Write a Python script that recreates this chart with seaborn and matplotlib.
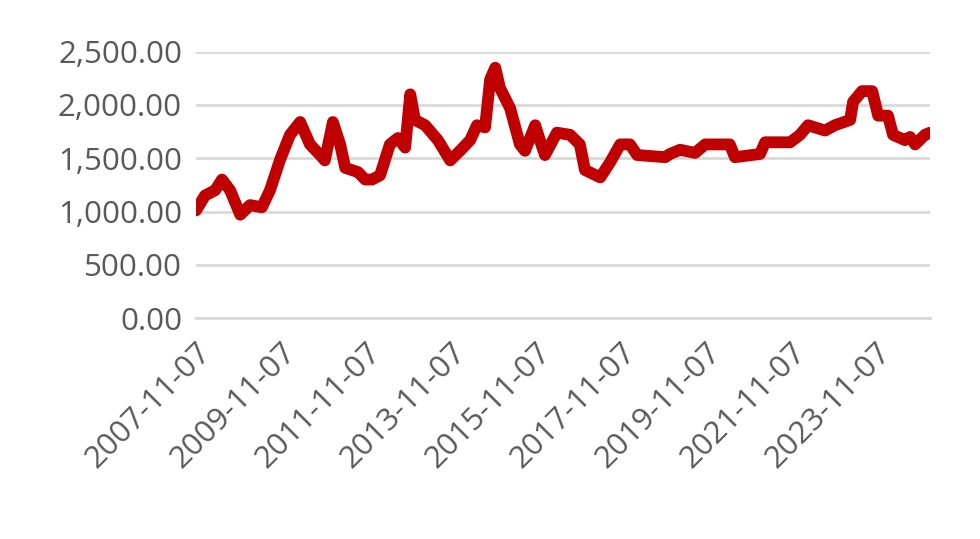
import numpy as np
import pandas as pd
import matplotlib
matplotlib.use("Agg")
import matplotlib.pyplot as plt
import seaborn as sns

# decimal years and values
years = [2007.85, 2008.06, 2008.30, 2008.46, 2008.65, 2008.89, 2009.12, 2009.40, 2009.59,
         2009.83, 2010.06, 2010.30, 2010.53, 2010.77, 2010.88, 2011.07, 2011.24, 2011.36,
         2011.66, 2011.83, 2011.99, 2012.18, 2012.41, 2012.60, 2012.77, 2012.89, 2013.00,
         2013.24, 2013.54, 2013.83, 2014.06, 2014.30, 2014.46, 2014.65, 2014.77, 2014.89,
         2015.00, 2015.24, 2015.47, 2015.59, 2015.83, 2015.94, 2016.06, 2016.34, 2016.65,
         2016.88, 2017.00, 2017.36, 2017.59, 2017.83, 2018.06, 2018.23, 2018.89, 2019.00,
         2019.24, 2019.59, 2019.83, 2020.41, 2020.53, 2021.12, 2021.24, 2021.83, 2022.06,
         2022.25, 2022.65, 2022.88, 2023.24, 2023.31, 2023.52, 2023.76, 2023.90, 2024.13,
         2024.25, 2024.53, 2024.65, 2024.77, 2025.00, 2025.12]
values = [1010, 1150, 1200, 1300, 1200, 970, 1060, 1040, 1200,
          1490, 1720, 1840, 1630, 1530, 1480, 1840, 1630, 1410,
          1370, 1300, 1300, 1340, 1630, 1690, 1600, 2100, 1860,
          1810, 1670, 1480, 1570, 1670, 1810, 1790, 2240, 2350,
          2160, 1970, 1630, 1570, 1810, 1670, 1530, 1740, 1720,
          1630, 1390, 1320, 1460, 1630, 1630, 1530, 1510, 1540,
          1580, 1550, 1630, 1630, 1510, 1540, 1650, 1650, 1720,
          1810, 1760, 1810, 1860, 2030, 2130, 2130, 1900, 1900,
          1720, 1670, 1700, 1630, 1720, 1740]
tick_dates = ["2007-11-07", "2009-11-07", "2011-11-07", "2013-11-07", "2015-11-07",
              "2017-11-07", "2019-11-07", "2021-11-07", "2023-11-07"]

dates = pd.Timestamp("2007-01-01") + pd.to_timedelta((np.array(years) - 2007) * 365.25, unit="D")
df = pd.DataFrame({"date": dates, "value": values})

sns.set_theme(style="white")
plt.rcParams["font.family"] = ["Open Sans", "DejaVu Sans"]

fig = plt.figure(figsize=(9.8, 5.39), dpi=100)
ax = fig.add_axes([0.2, 0.41, 0.749, 0.494])
sns.lineplot(data=df, x="date", y="value", ax=ax, color="#C00000", linewidth=8.5,
             solid_joinstyle="round", solid_capstyle="round")

ax.set_ylim(0, 2500)
ax.set_yticks(np.arange(0, 2501, 500))
ax.yaxis.set_major_formatter(matplotlib.ticker.FuncFormatter(lambda v, p: f"{v:,.2f}"))
ax.grid(axis="y", color="#D9D9D9", linewidth=2)
ax.set_axisbelow(True)

ticks = pd.to_datetime(tick_dates)
ax.set_xlim(ticks[0], dates[-1])
ax.set_xticks(ticks)
ax.set_xticklabels(tick_dates, rotation=45, ha="right", rotation_mode="anchor")
ax.tick_params(axis="y", labelsize=22.5, colors="#595959", length=0, pad=10)
ax.tick_params(axis="x", labelsize=22.5, labelcolor="#595959", length=8, width=1.5,
               color="#D9D9D9", direction="out", pad=6)
ax.set_xlabel("")
ax.set_ylabel("")
for s in ["top", "right", "left"]:
    ax.spines[s].set_visible(False)
ax.spines["bottom"].set_color("#D9D9D9")
ax.spines["bottom"].set_linewidth(2)

fig.savefig("out.png", dpi=100)
